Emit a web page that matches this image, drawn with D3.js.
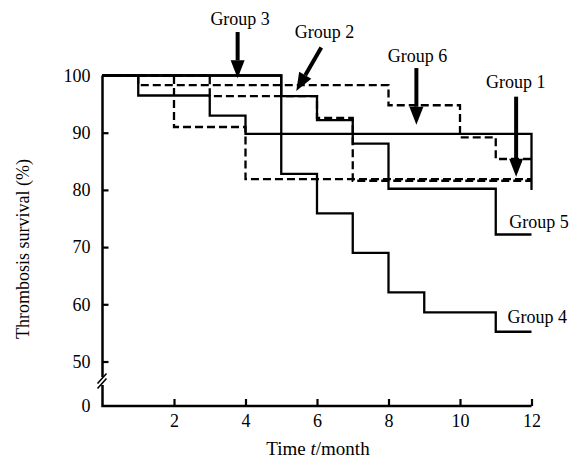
<!DOCTYPE html>
<html>
<head>
<meta charset="utf-8">
<script src="https://cdn.jsdelivr.net/npm/d3@7/dist/d3.min.js"></script>
<style>
  body { margin: 0; background: #fff; }
  text { font-family: "Liberation Serif", "Times New Roman", serif; fill: #000; }
</style>
</head>
<body>
<div id="chart"></div>
<script>
// step data: time (month) where each step starts, survival (%)
var group1Times = [0, 2, 4, 12],
    group1Values = [100, 91, 81.9, 81.9];
var group2Times = [0, 3, 6, 7, 12],
    group2Values = [100, 96.4, 92.6, 81.6, 81.6];
var group3Times = [0, 1, 8, 10, 11, 12],
    group3Values = [100, 98.3, 94.8, 89.2, 85.4, 85.4];
var group4Times = [0, 5, 6, 7, 8, 9, 11, 12],
    group4Values = [100, 82.8, 75.9, 69, 62.1, 58.6, 55.2, 55.2];
var group5Times = [0, 5, 6, 7, 8, 11, 12],
    group5Values = [100, 96.4, 92.2, 88.1, 80.2, 72.2, 72.2];
var group6Times = [0, 1, 3, 4, 12, 12],
    group6Values = [100, 96.5, 93, 89.8, 89.8, 80];

var xTicks = [2, 4, 6, 8, 10, 12];
var yTicks = [0, 50, 60, 70, 80, 90, 100];

// annotations: label, label anchor (t, %), arrow start, arrow tip
var arrowLabels = ["Group 3", "Group 2", "Group 6", "Group 1"];
var arrowText = [[3.85, 108.8], [6.21, 106.6], [8.81, 102.3], [11.56, 97.8]];
var arrowFrom = [[3.78, 107.6], [6.12, 104.9], [8.78, 101.3], [11.57, 96.3]];
var arrowTo = [[3.78, 99.5], [5.42, 97.3], [8.78, 91.4], [11.57, 82.3]];

var endLabels = ["Group 5", "Group 4"];
var endText = [[11.38, 73.3], [11.33, 56.7]];

var width = 582, height = 465;

var svg = d3.select("#chart").append("svg")
    .attr("width", width)
    .attr("height", height);

var x = d3.scaleLinear().domain([0, 12]).range([102.5, 531.5]);
// broken axis: 0..50 squeezed, 50..100 full
var y = d3.scaleLinear().domain([0, 50, 100]).range([406, 361.5, 75.5]);

var series = [
  {t: group1Times, v: group1Values, dash: true},
  {t: group2Times, v: group2Values, dash: true},
  {t: group3Times, v: group3Values, dash: true},
  {t: group4Times, v: group4Values, dash: false},
  {t: group5Times, v: group5Values, dash: false},
  {t: group6Times, v: group6Values, dash: false}
];

var line = d3.line()
    .x(function(d) { return x(d[0]); })
    .y(function(d) { return y(d[1]); })
    .curve(d3.curveStepAfter);

svg.append("g").selectAll("path")
    .data(series)
  .enter().append("path")
    .attr("d", function(s) { return line(d3.zip(s.t, s.v)); })
    .attr("fill", "none")
    .attr("stroke", "#000")
    .attr("stroke-width", 2.3)
    .attr("stroke-dasharray", function(s) { return s.dash ? "8,4" : null; });

// axes
var xAxis = d3.axisBottom(x).tickValues(xTicks).tickSizeInner(-7).tickSizeOuter(0).tickPadding(8);
var yAxis = d3.axisLeft(y).tickValues(yTicks).tickSizeInner(-6).tickSizeOuter(0).tickPadding(12);

var gx = svg.append("g")
    .attr("transform", "translate(0," + y(0) + ")")
    .call(xAxis);
gx.select(".domain").remove();
gx.selectAll("line").attr("stroke-width", 2.2);
gx.selectAll("text").attr("font-size", 18).attr("font-family", "Liberation Serif");

var gy = svg.append("g")
    .attr("transform", "translate(" + x(0) + ",0)")
    .call(yAxis);
gy.select(".domain").remove();
gy.selectAll("line").attr("stroke-width", 2.2);
gy.selectAll(".tick").filter(function(d) { return d === 0 || d === 100; }).select("line").remove();
gy.selectAll("text").attr("font-size", 18).attr("font-family", "Liberation Serif");

// axis lines with break
var x0 = x(0), breakY = y(0) - 25;
svg.append("path")
    .attr("d", "M" + x0 + "," + y(100) + "V" + (breakY - 4) +
               "M" + x0 + "," + (breakY + 4) + "V" + y(0) + "H" + x(12))
    .attr("fill", "none")
    .attr("stroke", "#000")
    .attr("stroke-width", 2.5);
svg.append("g").selectAll("line")
    .data([-2.5, 2.5])
  .enter().append("line")
    .attr("x1", x0 - 5).attr("x2", x0 + 4)
    .attr("y1", function(d) { return breakY + d + 5; })
    .attr("y2", function(d) { return breakY + d - 5; })
    .attr("stroke", "#000")
    .attr("stroke-width", 1.6);

// arrows
var arrows = svg.append("g");
arrowLabels.forEach(function(lab, i) {
  var x1 = x(arrowFrom[i][0]), y1 = y(arrowFrom[i][1]),
      x2 = x(arrowTo[i][0]), y2 = y(arrowTo[i][1]);
  var ang = Math.atan2(y2 - y1, x2 - x1),
      headLen = 18, headW = 7;
  var bx = x2 - headLen * Math.cos(ang), by = y2 - headLen * Math.sin(ang);
  arrows.append("line")
      .attr("x1", x1).attr("y1", y1)
      .attr("x2", bx).attr("y2", by)
      .attr("stroke", "#000")
      .attr("stroke-width", 4);
  var px = -Math.sin(ang) * headW, py = Math.cos(ang) * headW;
  arrows.append("path")
      .attr("d", "M" + x2 + "," + y2 + "L" + (bx + px) + "," + (by + py) +
                 "L" + (bx - px) + "," + (by - py) + "Z")
      .attr("fill", "#000");
  arrows.append("text")
      .attr("x", x(arrowText[i][0]))
      .attr("y", y(arrowText[i][1]))
      .attr("text-anchor", "middle")
      .attr("font-size", 18)
      .text(lab);
});

svg.append("g").selectAll("text")
    .data(endLabels)
  .enter().append("text")
    .attr("x", function(d, i) { return x(endText[i][0]); })
    .attr("y", function(d, i) { return y(endText[i][1]); })
    .attr("font-size", 18)
    .text(function(d) { return d; });

// titles
svg.append("text")
    .attr("transform", "translate(29," + 249 + ") rotate(-90)")
    .attr("text-anchor", "middle")
    .attr("font-size", 18)
    .text("Thrombosis survival (%)");

var xt = svg.append("text")
    .attr("x", 318)
    .attr("y", 455)
    .attr("text-anchor", "middle")
    .attr("font-size", 19);
xt.append("tspan").text("Time ");
xt.append("tspan").attr("font-style", "italic").text("t");
xt.append("tspan").text("/month");
</script>
</body>
</html>
